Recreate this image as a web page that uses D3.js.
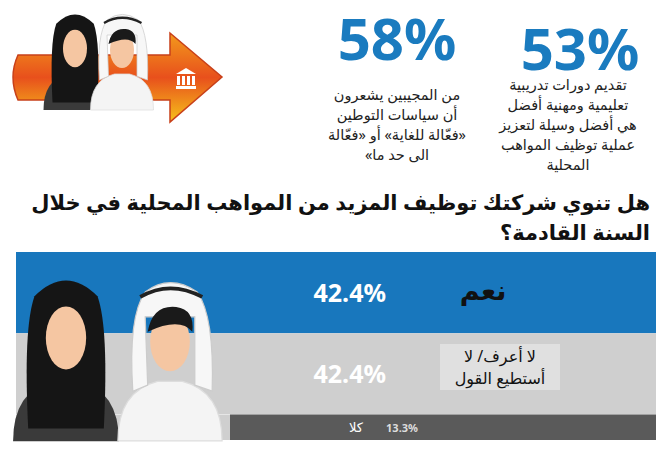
<!DOCTYPE html>
<html><head><meta charset="utf-8">
<script src="https://cdn.jsdelivr.net/npm/d3@7"></script>
<style>body{margin:0;background:#fff}svg{display:block}</style>
</head><body>
<svg id="c" width="670" height="450"></svg>
<script>
const categories = ["نعم", "لا أعرف/ لا|أستطيع القول", "كلا"];
const values = [42.4, 42.4, 13.3];
const valueLabels = ["42.4%", "42.4%", "13.3%"];
const barColors = ["#1877bd", "#cfcfcf", "#5a5a5a"];
const stats = [
  {value: "58%", lines: ["من المجيبين يشعرون", "أن سياسات التوطين", "«فعّالة للغاية» أو «فعّالة", "الى حد ما»"]},
  {value: "53%", lines: ["تقديم دورات تدريبية", "تعليمية ومهنية أفضل", "هي أفضل وسيلة لتعزيز", "عملية توظيف المواهب", "المحلية"]}
];
const titleLines = ["هل تنوي شركتك توظيف المزيد من المواهب المحلية في خلال", "السنة القادمة؟"];

const svg = d3.select("#c");
const font = "'Noto Sans', 'DejaVu Sans', sans-serif";
const defs = svg.append("defs");
const g1 = defs.append("linearGradient").attr("id","arr").attr("x1",0).attr("y1",0).attr("x2",0).attr("y2",1);
g1.append("stop").attr("offset","0%").attr("stop-color","#f39a1c");
g1.append("stop").attr("offset","50%").attr("stop-color","#e8501c");
g1.append("stop").attr("offset","100%").attr("stop-color","#f6c21a");

svg.append("path").attr("d","M18,55 L170,55 L170,33 L222,77 L170,122 L170,100 L18,100 Q8,77 18,55Z")
  .attr("fill","url(#arr)").attr("stroke","#c8401a").attr("stroke-width",1.5);
const bk = svg.append("g").attr("fill","#fff").attr("transform","translate(176,68)");
bk.append("path").attr("d","M0,6 L10,0 L20,6Z");
[2,7,12,17].forEach(x=>bk.append("rect").attr("x",x-1).attr("y",8).attr("width",3).attr("height",9));
bk.append("rect").attr("x",0).attr("y",18).attr("width",20).attr("height",3);

function person(x, y, s, female){
  const p = svg.append("g").attr("transform",`translate(${x},${y}) scale(${s})`);
  if(female){
    p.append("path").attr("d","M-42,120 Q-42,80 -10,72 L10,72 Q42,80 42,120Z").attr("fill","#3a3a3a");
    p.append("path").attr("d","M-30,110 Q-34,30 -25,5 Q0,-20 25,5 Q34,30 30,110 Z").attr("fill","#151515");
    p.append("ellipse").attr("cx",0).attr("cy",38).attr("rx",16).attr("ry",25).attr("fill","#f5c6a2");
  } else {
    p.append("path").attr("d","M-42,120 Q-42,80 -10,72 L10,72 Q42,80 42,120Z").attr("fill","#f4f4f4").attr("stroke","#ddd");
    p.append("path").attr("d","M-30,80 Q-34,20 -20,0 Q0,-15 22,0 Q36,20 34,80 L20,75 L20,20 L-20,20 L-18,75Z").attr("fill","#f7f7f7").attr("stroke","#ccc");
    p.append("path").attr("d","M-24,4 Q0,-10 26,4").attr("fill","none").attr("stroke","#222").attr("stroke-width",3);
    p.append("ellipse").attr("cx",0).attr("cy",40).attr("rx",16).attr("ry",24).attr("fill","#f5c6a2");
    p.append("path").attr("d","M-18,32 Q-14,10 5,12 Q20,14 18,32 Q8,20 -18,32Z").attr("fill","#1a1a1a");
  }
}
person(75, 20, 0.75, true);
person(122, 20, 0.75, false);

const sx = [397, 580], sy = [60, 70], ly = [100, 90];
stats.forEach((s,i)=>{
  svg.append("text").attr("x",sx[i]).attr("y",sy[i]).attr("text-anchor","middle")
    .attr("font-family",font).attr("font-weight","bold").attr("font-size",58).attr("fill","#1a7bbf").text(s.value);
  s.lines.forEach((l,j)=>svg.append("text").attr("x",sx[i]-(i?12:0)).attr("y",ly[i]+j*20).attr("text-anchor","middle")
    .attr("direction","rtl").attr("font-family",font).attr("font-size",14.5).attr("fill","#222").text(l));
});
titleLines.forEach((t,i)=>svg.append("text").attr("x",650).attr("y",210+i*30).attr("text-anchor","start")
  .attr("direction","rtl").attr("font-family",font).attr("font-weight","bold").attr("font-size",21).attr("fill","#111").text(t));

const total = d3.sum(values);
const y = d3.scaleLinear().domain([0,total]).range([252,440]);
let cum = 0;
const bars = values.map((v,i)=>{const o={i,v,y0:y(cum),y1:y(cum+v)};cum+=v;return o;});
const x = d3.scaleLinear().domain([0,1]).range([16,656]);
const darkStart = 230;
svg.selectAll("rect.bar").data(bars).join("rect").attr("class","bar")
  .attr("x",d=>d.i===2?darkStart:x(0)).attr("width",d=>x(1)-(d.i===2?darkStart:x(0)))
  .attr("y",d=>d.y0).attr("height",d=>d.y1-d.y0).attr("fill",d=>barColors[d.i]);
svg.append("rect").attr("x",16).attr("y",415).attr("width",darkStart-16).attr("height",25).attr("fill","#cfcfcf");
svg.append("rect").attr("x",440).attr("y",344).attr("width",120).attr("height",46).attr("fill","#e0e0e0");

person(66, 290, 1.26, true);
person(170, 292, 1.24, false);

bars.forEach(d=>{
  const mid=(d.y0+d.y1)/2;
  if(d.i<2){
    svg.append("text").attr("x",386).attr("y",mid+9).attr("text-anchor","end").attr("font-family",font)
      .attr("font-weight","bold").attr("font-size",25).attr("fill","#fff").text(valueLabels[d.i]);
  } else {
    svg.append("text").attr("x",402).attr("y",mid+5).attr("text-anchor","middle").attr("font-family",font)
      .attr("font-weight","bold").attr("font-size",11).attr("fill","#ddd").text(valueLabels[d.i]);
  }
});
svg.append("text").attr("x",483).attr("y",300).attr("text-anchor","middle").attr("font-family",font)
  .attr("font-weight","bold").attr("font-size",27).attr("fill","#111").text(categories[0]);
categories[1].split("|").forEach((l,j)=>svg.append("text").attr("x",500).attr("y",362+j*22).attr("text-anchor","middle")
  .attr("direction","rtl").attr("font-family",font).attr("font-size",16).attr("fill","#111").text(l));
svg.append("text").attr("x",356).attr("y",432).attr("text-anchor","middle").attr("font-family",font)
  .attr("font-size",13).attr("fill","#fff").text(categories[2]);
</script>
</body></html>
